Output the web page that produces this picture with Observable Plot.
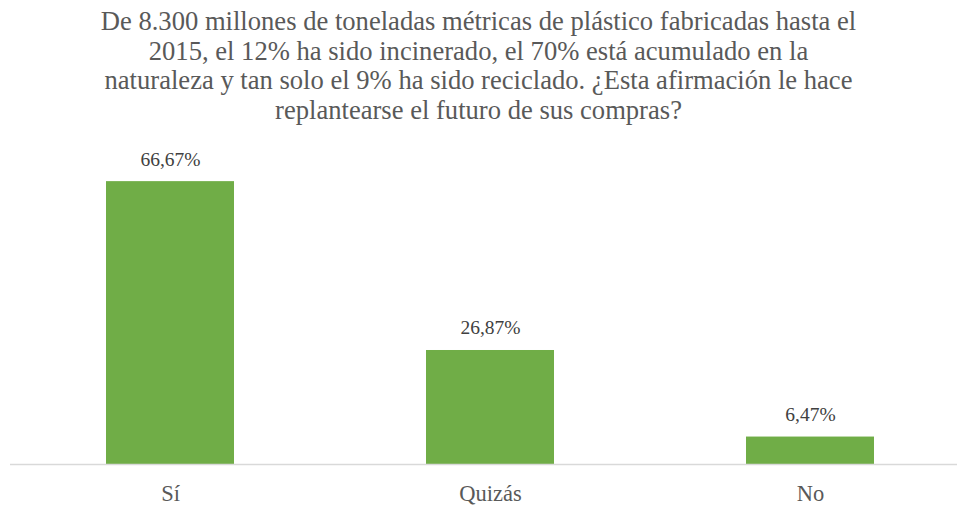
<!DOCTYPE html>
<html>
<head>
<meta charset="utf-8">
<script src="https://cdn.jsdelivr.net/npm/d3@7"></script>
<script src="https://cdn.jsdelivr.net/npm/@observablehq/plot@0.6"></script>
<style>
  html, body { margin: 0; padding: 0; background: #ffffff; }
  #wrap { width: 957px; height: 506px; overflow: hidden; }
  #title {
    width: 957px; height: 135px; box-sizing: border-box; padding-top: 7px;
    text-align: center; font-family: serif;
    font-size: 26.6px; line-height: 29.5px; color: #595959; white-space: nowrap;
  }
</style>
</head>
<body>
<div id="wrap">
  <div id="title"></div>
  <div id="chart"></div>
</div>
<script>
const titleLines = [
  "De 8.300 millones de toneladas métricas de plástico fabricadas hasta el",
  "2015, el 12% ha sido incinerado, el 70% está acumulado en la",
  "naturaleza y tan solo el 9% ha sido reciclado. ¿Esta afirmación le hace",
  "replantearse el futuro de sus compras?"
];
const categories = ["Sí", "Quizás", "No"];
const values = [66.67, 26.87, 6.47];
const valueLabels = ["66,67%", "26,87%", "6,47%"];

document.getElementById("title").innerHTML = titleLines.join("<br>");

const data = categories.map((c, i) => ({cat: c, val: values[i], label: valueLabels[i]}));
const top0 = 135;
const chart = Plot.plot({
  width: 957,
  height: 506 - top0,
  marginLeft: 10,
  marginRight: 0,
  marginTop: 0,
  marginBottom: 0,
  style: {fontFamily: "serif", background: "#ffffff", color: "#595959", overflow: "visible"},
  x: {domain: categories, range: [10, 970], paddingInner: 0.6, paddingOuter: 0.3, axis: null},
  y: {domain: [0, 70], range: [464 - top0, 167 - top0], axis: null},
  marks: [
    Plot.barY(data, {x: "cat", y: "val", fill: "#70ad47"}),
    Plot.ruleY([0], {stroke: "#d9d9d9", strokeWidth: 1.3}),
    Plot.text(data, {x: "cat", y: "val", text: "label", lineAnchor: "bottom", dy: -16, fontSize: 19.5, fill: "#404040", fontFamily: "serif"}),
    Plot.text(data, {x: "cat", y: 0, text: "cat", lineAnchor: "bottom", dy: 36, fontSize: 22.5, fill: "#595959", fontFamily: "serif"})
  ]
});
document.getElementById("chart").appendChild(chart);
</script>
</body>
</html>
